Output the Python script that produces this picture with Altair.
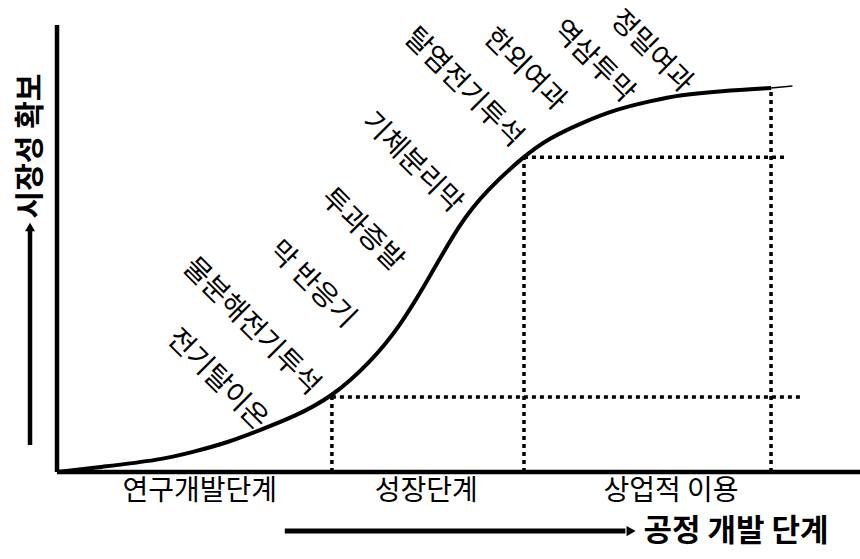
import altair as alt
import pandas as pd

FONT = "Noto Sans CJK KR"

# S-curve (x: process stage, y: market readiness)
curve_x = [0, 6.0, 14.4, 19.0, 23.8, 28.4, 33.1, 38.5, 43.8, 48.0, 52.2, 56.4, 60.2, 65.4,
           69.0, 73.7, 78.4, 83.1, 87.3, 92.9, 100.0]
curve_y = [0, 1.3, 3.1, 5.2, 7.6, 10.9, 14.3, 19.5, 28.4, 37.8, 50.8, 64.8, 73.4, 82.3,
           87.0, 91.1, 94.5, 96.6, 98.2, 99.2, 100.0]
tail_x = [100.0, 103.0]
tail_y = [100.0, 100.5]

# dotted guide lines
guide_x = [38.5, 38.5, 65.4, 65.4, 100.0]
guide_x2 = [104.1, 38.5, 65.4, 102.0, 100.0]
guide_y = [19.5, 0, 0, 82.0, 0]
guide_y2 = [19.5, 19.5, 82.0, 82.0, 100.0]

# axes lines
axis_x = [0, 0]
axis_x2 = [0, 112.5]
axis_y = [0, 0]
axis_y2 = [116.4, 0]

# stage labels
stage_names = ["연구개발단계", "성장단계", "상업적 이용"]
stage_x = [20.0, 51.7, 86.0]
stage_y = [-5.2, -5.2, -5.2]

# technology labels along the curve
tech_names = ["전기탈이온", "물분해전기투석", "막 반응기", "투과증발", "기체분리막",
              "탈염전기투석", "한외여과", "역삼투막", "정밀여과"]
tech_x = [22.4, 27.2, 35.7, 42.7, 49.7, 56.9, 65.5, 75.1, 83.2]
tech_y = [24.0, 37.8, 48.7, 63.0, 80.5, 100.0, 104.7, 106.8, 109.4]

# axis titles with arrows
xtitle = "공정 개발 단계"
xtitle_pos = (95.1, -15.7)
xarrow_x = [31.9, 79.6]
xarrow_y = [-15.4, -15.4]
xhead = (80.4, -15.4)

ytitle = "시장성 확보"
ytitle_pos = (-3.64, 84.9)
yarrow_x = [-3.78, -3.78]
yarrow_y = [7.0, 62.8]
yhead = (-3.78, 63.8)

XS = alt.Scale(domain=[-7.983, 112.46], nice=False, zero=False)
YS = alt.Scale(domain=[-22.66, 122.92], nice=False, zero=False)


def X(f="x"):
    return alt.X(f"{f}:Q", scale=XS, axis=None)


def Y(f="y"):
    return alt.Y(f"{f}:Q", scale=YS, axis=None)


curve_df = pd.DataFrame({"x": curve_x, "y": curve_y})
tail_df = pd.DataFrame({"x": tail_x, "y": tail_y})
guide_df = pd.DataFrame({"x": guide_x, "x2": guide_x2, "y": guide_y, "y2": guide_y2})
axis_df = pd.DataFrame({"x": axis_x, "x2": axis_x2, "y": axis_y, "y2": axis_y2})
stage_df = pd.DataFrame({"t": stage_names, "x": stage_x, "y": stage_y})
tech_df = pd.DataFrame({"t": tech_names, "x": tech_x, "y": tech_y})

curve = alt.Chart(curve_df).mark_line(color="black", strokeWidth=4, interpolate="basis").encode(
    x=X(), y=Y(), order="x:Q")
tail = alt.Chart(tail_df).mark_line(color="black", strokeWidth=1.5).encode(x=X(), y=Y())

guides = alt.Chart(guide_df).mark_rule(color="black", strokeWidth=3.5, strokeDash=[4, 4]).encode(
    x=X(), x2="x2:Q", y=Y(), y2="y2:Q")
axes = alt.Chart(axis_df).mark_rule(color="black", strokeWidth=4.5).encode(
    x=X(), x2="x2:Q", y=Y(), y2="y2:Q")

stages = alt.Chart(stage_df).mark_text(font=FONT, fontSize=28, color="black",
                                       align="center", baseline="middle").encode(
    x=X(), y=Y(), text="t:N")
techs = alt.Chart(tech_df).mark_text(font=FONT, fontSize=28, color="black", angle=45,
                                     align="center", baseline="middle").encode(
    x=X(), y=Y(), text="t:N")

xt = alt.Chart(pd.DataFrame({"t": [xtitle], "x": [xtitle_pos[0]], "y": [xtitle_pos[1]]})).mark_text(
    font=FONT, fontSize=31, fontWeight="bold", color="black", align="center", baseline="middle").encode(
    x=X(), y=Y(), text="t:N")
yt = alt.Chart(pd.DataFrame({"t": [ytitle], "x": [ytitle_pos[0]], "y": [ytitle_pos[1]]})).mark_text(
    font=FONT, fontSize=30, fontWeight="bold", color="black", angle=270, align="center",
    baseline="middle").encode(x=X(), y=Y(), text="t:N")

xa = alt.Chart(pd.DataFrame({"x": xarrow_x, "y": xarrow_y})).mark_line(color="black", strokeWidth=5).encode(
    x=X(), y=Y())
xh = alt.Chart(pd.DataFrame({"x": [xhead[0]], "y": [xhead[1]]})).mark_point(
    shape="triangle-right", filled=True, color="black", size=110, opacity=1).encode(x=X(), y=Y())
ya = alt.Chart(pd.DataFrame({"x": yarrow_x, "y": yarrow_y})).mark_line(color="black", strokeWidth=4.5).encode(
    x=X(), y=Y(), order="y:Q")
yh = alt.Chart(pd.DataFrame({"x": [yhead[0]], "y": [yhead[1]]})).mark_point(
    shape="triangle-up", filled=True, color="black", size=100, opacity=1).encode(x=X(), y=Y())

chart = alt.layer(guides, axes, curve, tail, stages, techs, xt, yt, xa, xh, ya, yh).properties(
    width=860, height=559, padding=0, autosize=alt.AutoSizeParams(type="none"),
    background="white"
).configure_view(stroke=None)

chart.save("out.html", embed_options={"renderer": "svg", "actions": False})
